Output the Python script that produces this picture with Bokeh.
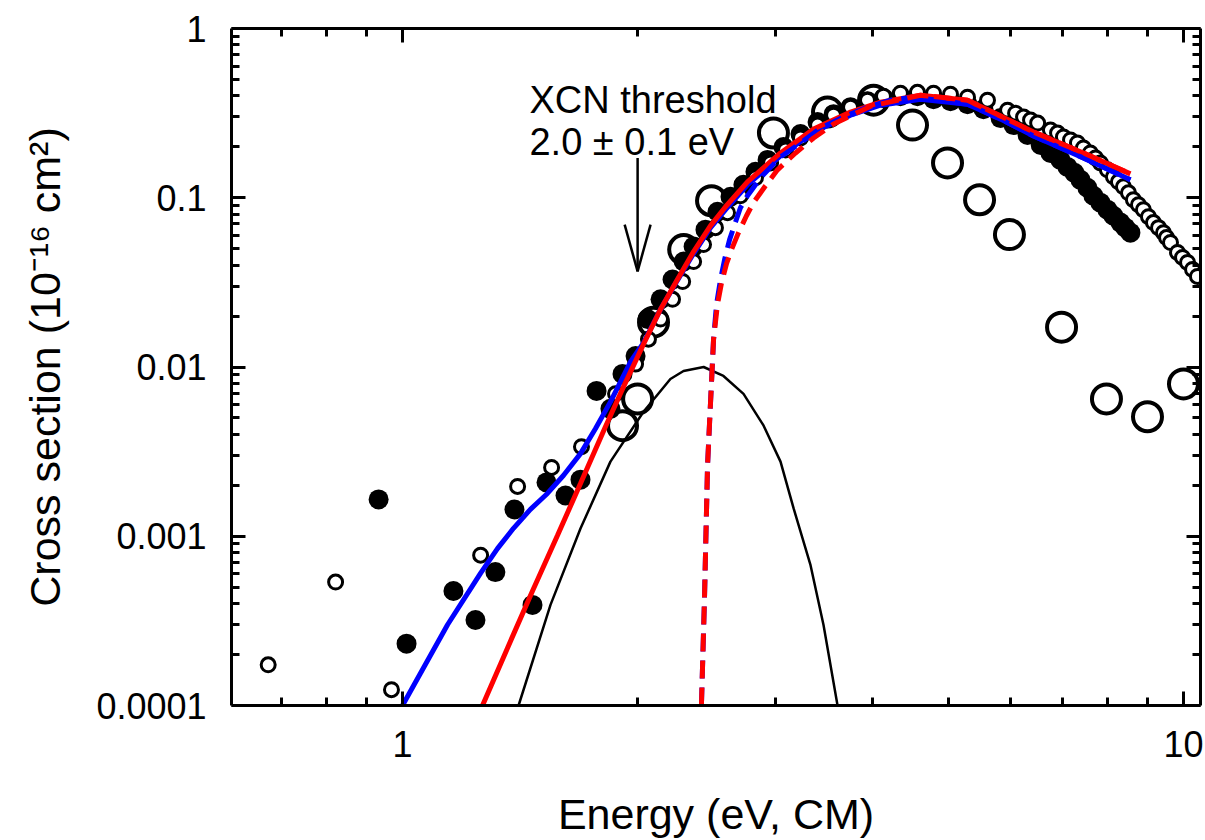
from bokeh.plotting import figure
from bokeh.models import Range1d, LogAxis, FixedTicker, CustomJSTickFormatter, Label, Arrow
from bokeh.embed import file_html
from bokeh.resources import INLINE

FONT = "Liberation Sans"

# ---------------- data ----------------
# small open circles
open_small_energy = [0.673, 0.821, 0.968, 1.259, 1.404, 1.552, 1.695, 1.874, 1.988, 2.065,
                     2.140, 2.217, 2.284, 2.359, 2.429, 2.516, 2.607, 2.708, 2.831, 2.960,
                     3.094, 3.233, 3.400, 3.564, 3.747, 3.939, 4.129, 4.341, 4.564, 4.786,
                     5.031, 5.290, 5.611, 5.953, 6.095, 6.240, 6.370, 6.505, 6.755, 6.898,
                     7.019, 7.167, 7.315, 7.445, 7.599, 7.716, 7.827, 7.990, 8.133, 8.254,
                     8.377, 8.503, 8.627, 8.757, 8.885, 9.019, 9.152, 9.290, 9.427, 9.512,
                     9.624, 9.825, 9.971, 10.12, 10.27, 10.42]
open_small_sigma = [1.74e-4, 5.36e-4, 1.24e-4, 7.73e-4, 1.97e-3, 2.55e-3, 3.38e-3, 6.94e-3, 0.0104, 0.0146,
                    0.0192, 0.0251, 0.0320, 0.0420, 0.0529, 0.0666, 0.0816, 0.1027, 0.1311, 0.1606,
                    0.1916, 0.2254, 0.2688, 0.3077, 0.3428, 0.3772, 0.398, 0.4146, 0.420, 0.4146,
                    0.409, 0.3927, 0.3772, 0.3293, 0.316, 0.2996, 0.2876, 0.2762, 0.2512, 0.2412,
                    0.2285, 0.2194, 0.2107, 0.1968, 0.1839, 0.1719, 0.1606, 0.1462, 0.1329, 0.1242,
                    0.1161, 0.1070, 0.0973, 0.0910, 0.0850, 0.0773, 0.0713, 0.0666, 0.0622, 0.0582,
                    0.0544, 0.0475, 0.0444, 0.0415, 0.0377, 0.0343]

# filled circles
filled_energy = [0.932, 1.012, 1.162, 1.240, 1.315, 1.391, 1.467, 1.529, 1.617, 1.690,
                 1.772, 1.846, 1.913, 1.988, 2.059, 2.140, 2.217, 2.291, 2.359, 2.443,
                 2.531, 2.630, 2.732, 2.831, 2.934, 3.075, 3.233, 3.400, 3.564, 3.747,
                 3.939, 4.129, 4.341, 4.564, 4.786, 5.031, 5.290, 5.545, 5.831, 6.059,
                 6.314, 6.563, 6.755, 6.957, 7.102, 7.250, 7.380, 7.532, 7.667, 7.827,
                 7.990, 8.133, 8.303, 8.426, 8.551]
filled_sigma = [1.65e-3, 2.32e-4, 4.75e-4, 3.20e-4, 6.14e-4, 1.44e-3, 3.93e-4, 2.08e-3, 1.74e-3, 2.16e-3,
                7.22e-3, 5.66e-3, 9.10e-3, 0.0116, 0.0192, 0.0251, 0.0329, 0.0420, 0.0515, 0.0648,
                0.0827, 0.1014, 0.1193, 0.1422, 0.1673, 0.1995, 0.2378, 0.280, 0.3119, 0.3428,
                0.3721, 0.3875, 0.398, 0.398, 0.3823, 0.3721, 0.3572, 0.3338, 0.2955, 0.2688,
                0.2347, 0.2050, 0.1839, 0.1673, 0.1522, 0.1403, 0.1276, 0.1145, 0.1027, 0.0935,
                0.0850, 0.0783, 0.0713, 0.0666, 0.0622]

# large open circles
large_energy = [1.913, 2.000, 2.096, 2.291, 2.487, 2.985, 3.501, 4.010, 4.498, 4.987,
                5.481, 5.986, 6.98, 7.968, 8.993, 10.0]
large_sigma = [4.50e-3, 6.48e-3, 0.0184, 0.0494, 0.0960, 0.2412, 0.3206, 0.3772, 0.2688, 0.1606,
               0.0973, 0.0606, 0.0172, 6.48e-3, 5.08e-3, 7.94e-3]

# thin black hump
hump_energy = [1.408, 1.547, 1.690, 1.846, 2.035, 2.203, 2.290, 2.430, 2.576, 2.733,
               2.900, 3.048, 3.168, 3.330, 3.460, 3.606]
hump_sigma = [1.0e-4, 3.93e-4, 1.11e-3, 2.76e-3, 5.44e-3, 8.50e-3, 9.47e-3, 1.0e-2, 8.85e-3, 6.94e-3,
              4.50e-3, 2.76e-3, 1.46e-3, 6.75e-4, 2.99e-4, 1.0e-4]

# red solid fit
red_fit_energy = [1.266, 1.363, 1.467, 1.579, 1.690, 1.819, 1.913, 2.035, 2.140, 2.249,
                  2.359, 2.480, 2.592, 2.765, 3.048, 3.360, 3.747, 4.093, 4.606, 5.290,
                  5.831, 6.427, 7.445, 8.551]
red_fit_sigma = [1.0e-4, 2.19e-4, 4.75e-4, 1.01e-3, 2.05e-3, 4.44e-3, 7.42e-3, 0.01365, 0.02194, 0.0329,
                 0.0481, 0.0684, 0.0885, 0.1242, 0.1839, 0.2545, 0.3206, 0.3671, 0.4036, 0.3772,
                 0.3037, 0.2445, 0.1839, 0.1384]

# blue solid fit
blue_fit_energy = [1.000, 1.142, 1.259, 1.323, 1.387, 1.458, 1.533, 1.607, 1.690, 1.766,
                   1.846, 1.958, 2.035, 2.140, 2.249, 2.359, 2.480, 2.592, 2.765, 3.048,
                   3.360, 3.747, 4.093, 4.606, 5.290, 5.831, 6.427, 7.445, 8.551]
blue_fit_sigma = [1.0e-4, 3.00e-4, 6.06e-4, 8.45e-4, 1.114e-3, 1.441e-3, 1.790e-3, 2.285e-3, 3.077e-3, 4.32e-3,
                  6.22e-3, 0.0107, 0.0139, 0.0219, 0.0325, 0.0468, 0.0666, 0.0850, 0.1193, 0.1767,
                  0.2445, 0.3077, 0.3524, 0.3823, 0.3572, 0.2915, 0.2316, 0.1719, 0.1276]

# blue dashed
dash_blue_energy = [2.414, 2.436, 2.458, 2.473, 2.488, 2.502, 2.524, 2.554, 2.585, 2.623,
                    2.670, 2.708, 2.765, 2.873, 3.048, 3.233, 3.429, 3.692, 3.939, 4.215,
                    4.511, 5.290, 5.831, 6.427, 7.445, 8.551]
dash_blue_sigma = [1.0e-4, 4.32e-4, 2.62e-3, 4.75e-3, 8.50e-3, 0.0146, 0.02348, 0.0329, 0.0432, 0.0566,
                   0.0722, 0.0873, 0.1027, 0.1311, 0.1743, 0.2107, 0.2582, 0.3037, 0.3428, 0.3772,
                   0.3927, 0.3572, 0.2915, 0.2316, 0.1719, 0.1276]

# red dashed
dash_red_energy = [2.414, 2.436, 2.458, 2.473, 2.488, 2.502, 2.531, 2.562, 2.600, 2.638,
                   2.693, 2.757, 2.814, 2.916, 3.021, 3.186, 3.360, 3.564, 3.975, 4.606,
                   5.290, 5.831, 6.427, 7.445, 8.551]
dash_red_sigma = [1.0e-4, 4.32e-4, 2.62e-3, 4.75e-3, 8.50e-3, 0.0146, 0.02348, 0.0316, 0.0409, 0.0494,
                  0.0622, 0.0783, 0.0935, 0.1177, 0.1462, 0.1839, 0.2254, 0.2724, 0.3476, 0.4036,
                  0.3772, 0.3037, 0.2445, 0.1839, 0.1384]

# threshold annotation
threshold_energy = 2.0
annotation_lines = ["XCN threshold", "2.0 \u00b1 0.1 eV"]

# axes ticks
x_major_ticks = [1, 10]
x_minor_ticks = [0.7, 0.8, 0.9, 2, 3, 4, 5, 6, 7, 8, 9]
y_major_ticks = [0.0001, 0.001, 0.01, 0.1, 1]
y_minor_ticks = [m * d for d in (0.0001, 0.001, 0.01, 0.1) for m in range(2, 10)]

# ---------------- figure ----------------
p = figure(width=1205, height=840, x_axis_type="log", y_axis_type="log",
           x_range=Range1d(0.604, 10.514), y_range=Range1d(0.0001, 1),
           output_backend="svg", toolbar_location=None,
           min_border_left=231, min_border_right=5, min_border_top=28, min_border_bottom=132,
           x_axis_label="Energy (eV, CM)",
           y_axis_label="Cross section (10\u207b\u00b9\u2076 cm\u00b2)")
p.grid.visible = False
p.outline_line_color = None
p.background_fill_color = "white"
p.border_fill_color = "white"


def style_axis(ax, major, minor, labels=True):
    ax.ticker = FixedTicker(ticks=major, minor_ticks=minor)
    ax.axis_line_width = 3
    ax.axis_line_color = "black"
    ax.major_tick_line_width = 3
    ax.minor_tick_line_width = 3
    ax.major_tick_line_color = "black"
    ax.minor_tick_line_color = "black"
    ax.major_tick_in = 14
    ax.major_tick_out = 0
    ax.minor_tick_in = 8
    ax.minor_tick_out = 0
    if labels:
        ax.formatter = CustomJSTickFormatter(code="return String(tick);")
        ax.major_label_text_font = FONT
        ax.major_label_text_font_size = "36px"
        ax.major_label_text_color = "black"
        ax.axis_label_text_font = FONT
        ax.axis_label_text_font_size = "43px"
        ax.axis_label_text_font_style = "normal"
        ax.axis_label_text_color = "black"
    else:
        ax.formatter = CustomJSTickFormatter(code="return '';")
        ax.major_label_text_font_size = "0px"
        ax.major_label_standoff = 0


style_axis(p.xaxis[0], x_major_ticks, x_minor_ticks)
style_axis(p.yaxis[0], y_major_ticks, y_minor_ticks)
p.xaxis[0].major_label_standoff = 25
p.xaxis[0].axis_label_standoff = 30
p.yaxis[0].major_label_standoff = 25
p.yaxis[0].axis_label_standoff = 24

top_axis = LogAxis()
right_axis = LogAxis()
style_axis(top_axis, x_major_ticks, x_minor_ticks, labels=False)
style_axis(right_axis, y_major_ticks, y_minor_ticks, labels=False)
p.add_layout(top_axis, "above")
p.add_layout(right_axis, "right")

# ---------------- data marks ----------------
p.scatter(large_energy, large_sigma, marker="circle", size=29,
          fill_color=None, line_color="black", line_width=4)
p.scatter(filled_energy, filled_sigma, marker="circle", size=20,
          fill_color="black", line_color=None)
p.scatter(open_small_energy, open_small_sigma, marker="circle", size=14,
          fill_color="white", line_color="black", line_width=3)

p.line(hump_energy, hump_sigma, line_color="black", line_width=2.5)
p.line(blue_fit_energy, blue_fit_sigma, line_color="#0000ff", line_width=5)
p.line(red_fit_energy, red_fit_sigma, line_color="#ff0000", line_width=5)
p.line(dash_blue_energy, dash_blue_sigma, line_color="#0000ff", line_width=5, line_dash="18 9")
p.line(dash_red_energy, dash_red_sigma, line_color="#ff0000", line_width=5, line_dash="18 9")

# ---------------- annotation ----------------
arrow_top, arrow_tip, head_base = 0.172, 0.0367, 0.0694
head_half = 10 ** 0.0166
p.add_layout(Arrow(x_start=threshold_energy, y_start=arrow_top, x_end=threshold_energy,
                   y_end=arrow_tip, end=None, line_width=2.5, line_color="black"))
for xs in (threshold_energy / head_half, threshold_energy * head_half):
    p.add_layout(Arrow(x_start=xs, y_start=head_base, x_end=threshold_energy,
                       y_end=arrow_tip, end=None, line_width=2.5, line_color="black"))

for text, yy in zip(annotation_lines, (0.377, 0.2144)):
    p.add_layout(Label(x=1.454, y=yy, text=text, text_font=FONT, text_font_size="38px",
                       text_color="black", text_baseline="alphabetic", text_align="left"))

open("out.html", "w").write(file_html(p, INLINE))
